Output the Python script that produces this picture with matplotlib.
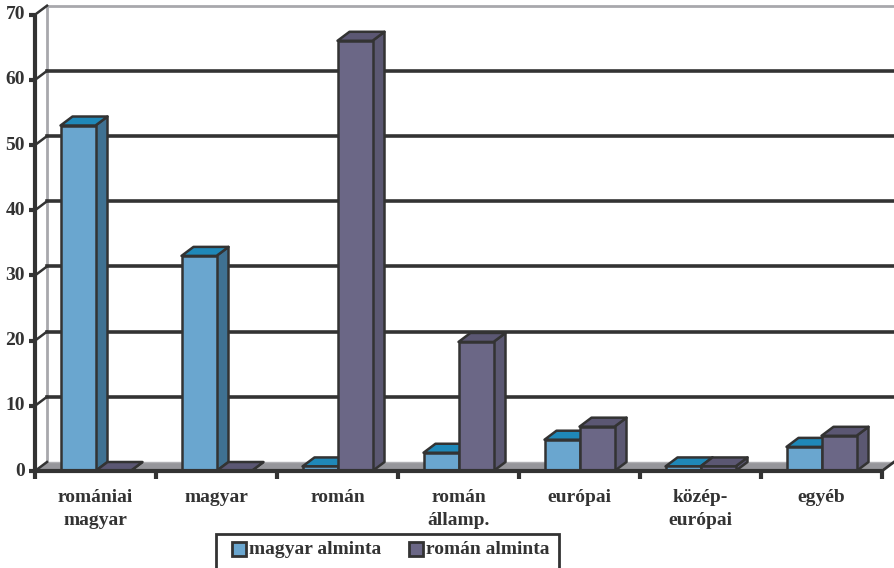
import matplotlib
matplotlib.use("Agg")
import matplotlib.pyplot as plt
from matplotlib.patches import Polygon, Rectangle

categories = ["romániai\nmagyar", "magyar", "román", "román\nállamp.", "európai", "közép-\neurópai", "egyéb"]
series_names = ["magyar alminta", "román alminta"]
magyar_alminta = [53, 33, 0.7, 2.8, 4.8, 0.7, 3.7]
roman_alminta = [0, 0, 66, 19.8, 6.8, 0.7, 5.4]
yticks = [0, 10, 20, 30, 40, 50, 60, 70]

W, H = 894, 568
fig = plt.figure(figsize=(W / 100, H / 100), dpi=100)
x_left, x_right = 35, 894
y_zero, y_top = 471, 6
ax = fig.add_axes([x_left / W, (H - y_zero) / H, (x_right - x_left) / W, (y_zero - y_top) / H])
cat_px = 121.0
unit_px = (471 - 14.7) / 70.0
ax.set_xlim(0, (x_right - x_left) / cat_px)
ax.set_ylim(0, (y_zero - y_top) / unit_px)
ax.axis("off")

DX = 12 / cat_px
DY = 9 / unit_px
BW = 35 / cat_px
ncat = len(categories)
edge = "#333333"
serif = "Liberation Serif"
xmax = ax.get_xlim()[1] + 1

# back wall edges
ax.plot([DX, DX], [DY, 70 + DY], color="#a8a8ac", lw=2, clip_on=False, zorder=1)
ax.plot([DX, xmax], [70 + DY, 70 + DY], color="#a8a8ac", lw=2, clip_on=False, zorder=1)
# gridlines on back wall
for t in yticks[1:-1]:
    ax.plot([DX, xmax], [t + DY, t + DY], color=edge, lw=2.6, zorder=1, clip_on=False)

# floor
floor = Polygon([(0, 0), (ncat, 0), (ncat + DX, DY), (xmax, DY), (DX, DY)], closed=True,
                facecolor="#96969b", edgecolor="none", zorder=2, clip_on=False)
ax.add_patch(floor)
ax.plot([DX, xmax], [DY, DY], color="#b0b0b4", lw=1, zorder=2)
ax.plot([ncat, ncat + DX], [0, DY], color=edge, lw=2, zorder=2, clip_on=False)

colors = [
    {"front": "#6aa6cf", "top": "#1f88b8", "side": "#3f7192"},
    {"front": "#6b6786", "top": "#5b5773", "side": "#5b5872"},
]

def draw_bar(x0, v, c, z):
    x1 = x0 + BW
    ax.add_patch(Polygon([(x1, 0), (x1 + DX, DY), (x1 + DX, v + DY), (x1, v)], closed=True,
                         facecolor=c["side"], edgecolor=edge, lw=1.8, joinstyle="round", zorder=z))
    ax.add_patch(Polygon([(x0, v), (x1, v), (x1 + DX, v + DY), (x0 + DX, v + DY)], closed=True,
                         facecolor=c["top"], edgecolor=edge, lw=1.8, joinstyle="round", zorder=z))
    ax.add_patch(Rectangle((x0, 0), BW, v, facecolor=c["front"], edgecolor=edge, lw=1.8, zorder=z + 0.5))

z = 3
for i in range(ncat):
    cx = i + 0.5
    for s, vals in enumerate([magyar_alminta, roman_alminta]):
        draw_bar(cx - BW + s * BW, vals[i], colors[s], z)
        z += 1

# front axes
ax.plot([0, 0], [0, 70], color=edge, lw=3, zorder=50, clip_on=False, solid_capstyle="butt")
ax.plot([0, ncat], [0, 0], color=edge, lw=3, zorder=50, clip_on=False, solid_capstyle="butt")
tl = 6 / cat_px
for t in yticks:
    ax.plot([-tl, 0], [t, t], color=edge, lw=3, zorder=50, clip_on=False, solid_capstyle="butt")
    ax.plot([0, DX], [t, t + DY], color=edge, lw=1.8, zorder=50, clip_on=False)
    ax.text(-10 / cat_px, t, str(t), ha="right", va="center", fontsize=14, fontweight="bold",
            family=serif, color=edge, clip_on=False)
for i in range(ncat + 1):
    ax.plot([i, i], [0, -8 / unit_px], color=edge, lw=3, zorder=50, clip_on=False, solid_capstyle="butt")
for i, lab in enumerate(categories):
    ax.text(i + 0.5, -18 / unit_px, lab, ha="center", va="top", fontsize=14, fontweight="bold",
            family=serif, color=edge, linespacing=1.45, clip_on=False)

# legend (manual, figure pixel coords)
def fx(px):
    return px / W

def fy(py):
    return (H - py) / H

fig.patches.append(Rectangle((fx(216), fy(572)), fx(559) - fx(216), fy(534) - fy(572),
                             transform=fig.transFigure, facecolor="white", edgecolor=edge, lw=2))
leg_items = [(232, colors[0]["front"]), (409, colors[1]["front"])]
for (lx, col), name in zip(leg_items, series_names):
    fig.patches.append(Rectangle((fx(lx), fy(556)), fx(14), fy(542) - fy(556),
                                 transform=fig.transFigure, facecolor=col, edgecolor=edge, lw=2))
    fig.text(fx(lx + 17), fy(550), name, ha="left", va="center", fontsize=14, fontweight="bold",
             family=serif, color=edge)

fig.savefig("out.png", dpi=100)
